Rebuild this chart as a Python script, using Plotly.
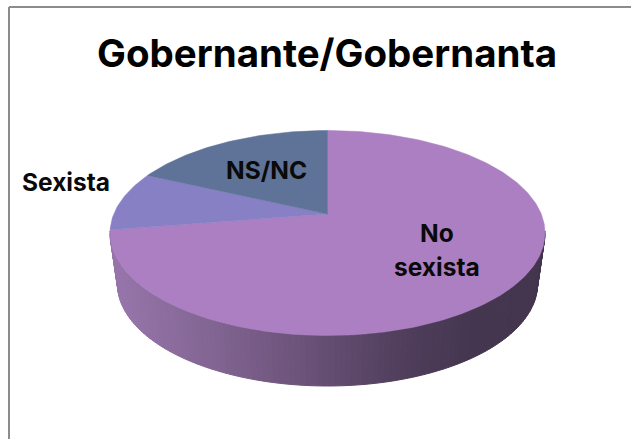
import numpy as np
import plotly.graph_objects as go

# Data
title = "Gobernante/Gobernanta"
categories = ["No sexista", "Sexista", "NS/NC"]
values = [75.5, 9.0, 15.5]

# Styles
colors = ["#AB7FC1", "#8880C4", "#5F7399"]
FONT = "Inter"
W, H = 631, 439
CX, CY, RX, RY = 327.5, 233, 217.5, 102.5
APEX_Y = 214
BCX, BCY, BRX, BRY = 327.5, 284, 210, 102
side_stops = [(110, (152, 118, 172)), (200, (133, 103, 150)), (300, (108, 83, 122)),
              (400, (80, 62, 92)), (470, (69, 54, 80)), (545, (68, 53, 78))]


def side_color(x):
    xs = [s[0] for s in side_stops]
    rgb = [np.interp(x, xs, [s[1][i] for s in side_stops]) for i in range(3)]
    return "rgb(%d,%d,%d)" % tuple(int(round(c)) for c in rgb)


fig = go.Figure()

# Side wall: front half of the disc, drawn as narrow strips
ts = np.linspace(np.pi / 2 - 0.02, 3 * np.pi / 2 + 0.02, 121)
for a, b in zip(ts[:-1], ts[1:]):
    tt = np.linspace(a, b, 4)
    top_x = CX + RX * np.sin(tt)
    top_y = CY - RY * np.cos(tt)
    bot_x = BCX + BRX * np.sin(tt)
    bot_y = BCY - BRY * np.cos(tt)
    xs = np.concatenate([top_x, bot_x[::-1], top_x[:1]])
    ys = np.concatenate([top_y, bot_y[::-1], top_y[:1]])
    c = side_color(float(xs.mean()))
    fig.add_trace(go.Scatter(x=xs.tolist(), y=ys.tolist(), mode="lines", fill="toself",
                             fillcolor=c, line=dict(color=c, width=1),
                             hoverinfo="skip", showlegend=False))

# Top face slices, clockwise from 12 o'clock
fractions = np.array(values) / sum(values)
starts = np.concatenate([[0], np.cumsum(fractions)[:-1]])
for name, f, s, col in zip(categories, fractions, starts, colors):
    tt = np.linspace(s, s + f, max(8, int(f * 360))) * 2 * np.pi
    xs = np.concatenate([[CX], CX + RX * np.sin(tt), [CX]])
    ys = np.concatenate([[APEX_Y], CY - RY * np.cos(tt), [APEX_Y]])
    fig.add_trace(go.Scatter(x=xs.tolist(), y=ys.tolist(), mode="lines", fill="toself",
                             fillcolor=col, line=dict(color=col, width=0.5),
                             name=name, hoverinfo="name", showlegend=False))

# Chart frame
frame = dict(type="line", line=dict(color="#8C8C8C", width=2), layer="below")
fig.add_shape(x0=9, x1=9, y0=7, y1=H, **frame)
fig.add_shape(x0=9, x1=W, y0=7, y1=7, **frame)

# Text
label_lines = [("No", 437, 233), ("sexista", 437, 267), ("Sexista", 66, 182), ("NS/NC", 266, 170)]
for text, x, y in label_lines:
    fig.add_annotation(x=x, y=y, text="<b>%s</b>" % text, showarrow=False,
                       font=dict(family=FONT, size=24.5, color="#0A0A0A"), align="center")
fig.add_annotation(x=327, y=53, text="<b>%s</b>" % title, showarrow=False,
                   font=dict(family=FONT, size=38.5, color="#000000"))

fig.update_layout(
    width=W, height=H, margin=dict(l=0, r=0, t=0, b=0),
    paper_bgcolor="#FFFFFF", plot_bgcolor="#FFFFFF", showlegend=False,
    xaxis=dict(range=[0, W], visible=False, fixedrange=True),
    yaxis=dict(range=[H, 0], visible=False, fixedrange=True),
)
fig.write_html("out.html", config={"displayModeBar": False},
               post_script="document.body.style.margin='0';document.documentElement.style.overflow='hidden';")
